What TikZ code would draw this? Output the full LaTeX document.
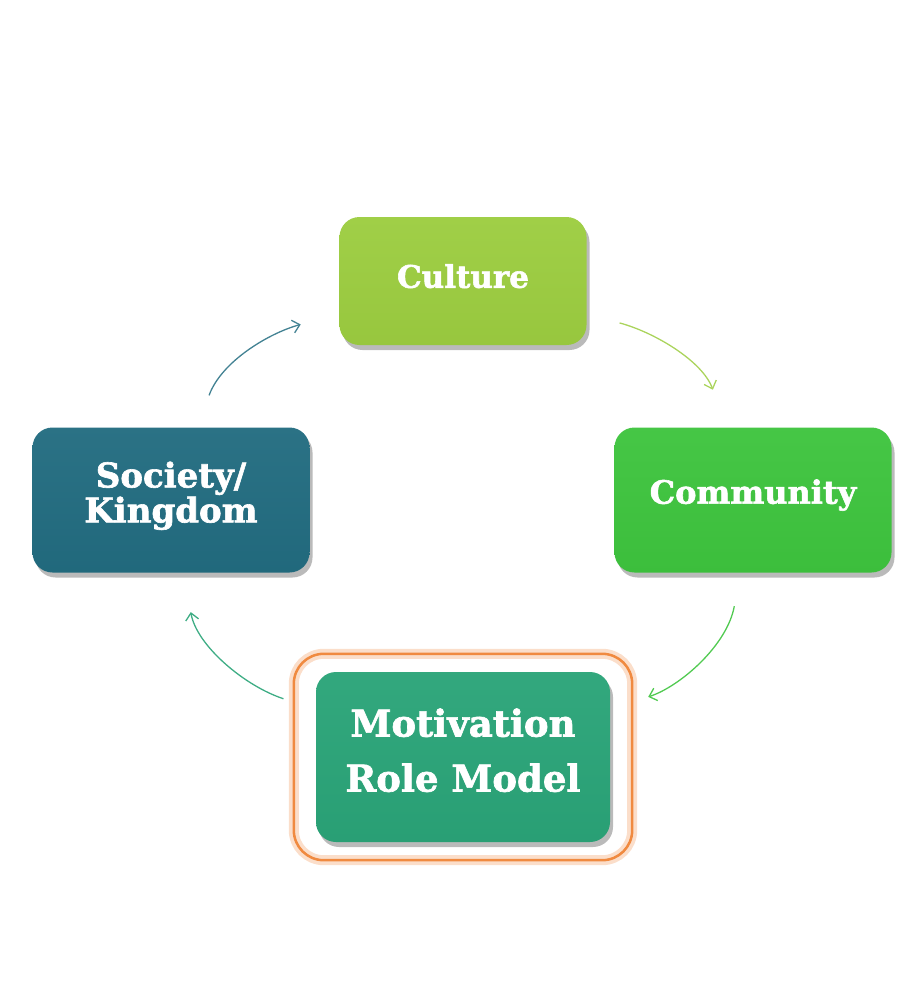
\documentclass[tikz,border=0pt]{standalone}
\usepackage{fontspec}
\setmainfont{DejaVu Serif}[BoldFeatures={FakeBold=1.8}]
\usetikzlibrary{shadows,fit,arrows.meta,backgrounds}

\definecolor{culgreen}{RGB}{156,205,64}
\definecolor{comgreen}{RGB}{62,196,62}
\definecolor{socteal}{RGB}{34,108,128}
\definecolor{motgreen}{RGB}{42,164,120}
\definecolor{glowor}{RGB}{240,138,64}

\begin{document}
\begin{tikzpicture}[x=1pt,y=-1pt,
  box/.style={rounded corners=20pt, text=white, align=center,
    top color=#1!96!white, bottom color=#1!97!black,
    drop shadow={shadow xshift=3pt, shadow yshift=-5pt, opacity=.45, fill=black!60}},
  arr/.style={-{Straight Barb[length=7pt,width=13pt]}, line width=1.3pt,
    shorten <=34pt, shorten >=40pt}]
  \useasboundingbox (0,0) rectangle (923,986);

  \node[box=culgreen, minimum width=247pt, minimum height=128pt, text depth=10pt,
    font=\bfseries\fontsize{31}{34}\selectfont] (cul) at (463,281) {Culture};
  \node[box=socteal, minimum width=277pt, minimum height=145pt, text depth=16pt,
    font=\bfseries\fontsize{34}{35}\selectfont] (soc) at (171,500) {Society/\\Kingdom};
  \node[box=comgreen, minimum width=277pt, minimum height=145pt, text depth=17pt,
    font=\bfseries\fontsize{32}{34}\selectfont] (com) at (753,500) {Community};
  \node[box=motgreen, minimum width=294pt, minimum height=170pt, text depth=14pt,
    font=\bfseries\fontsize{37}{55}\selectfont] (mot) at (463,757) {Motivation\\Role Model};

  % orange glow round the highlighted box
  \begin{scope}[on background layer]
    \node[fit=(mot), inner xsep=22pt, inner ysep=18pt, rounded corners=30pt, draw=glowor,
      line width=2.5pt, preaction={draw=glowor!28, line width=10pt}] (glow) {};
  \end{scope}

  \draw[arr, draw=socteal!85] (soc) to[out=70, in=195] (cul);
  \draw[arr, draw=culgreen!85] (cul) to[out=-15, in=110] (com);
  \draw[arr, draw=comgreen!90] (com) to[out=-100, in=18] (mot);
  \draw[arr, draw=motgreen!90] (mot) to[out=162, in=-80] (soc);
\end{tikzpicture}
\end{document}
